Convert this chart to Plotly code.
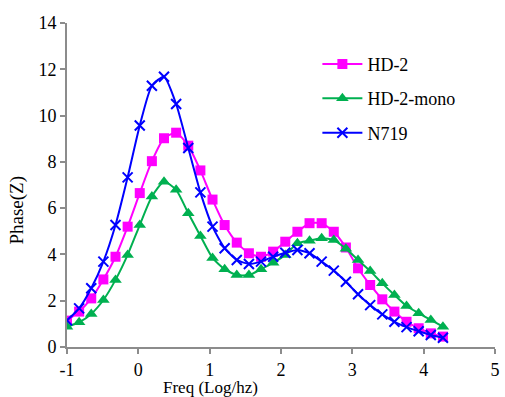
import plotly.graph_objects as go

log_freq = [-1.00, -0.83, -0.66, -0.49, -0.32, -0.15, 0.02, 0.19, 0.36, 0.53, 0.70, 0.87,
            1.04, 1.21, 1.38, 1.55, 1.72, 1.89, 2.06, 2.23, 2.40, 2.57, 2.74, 2.91,
            3.08, 3.25, 3.42, 3.59, 3.76, 3.93, 4.10, 4.27]

hd2 = [1.14, 1.53, 2.10, 2.92, 3.90, 5.20, 6.65, 8.03, 9.02, 9.26, 8.70, 7.63,
       6.37, 5.27, 4.51, 4.05, 3.90, 4.12, 4.55, 4.98, 5.35, 5.35, 4.98, 4.30,
       3.40, 2.68, 2.06, 1.53, 1.09, 0.81, 0.59, 0.45]

hd2_mono = [0.88, 1.07, 1.43, 2.03, 2.90, 3.98, 5.27, 6.50, 7.14, 6.79, 5.78, 4.80,
            3.85, 3.36, 3.11, 3.11, 3.36, 3.64, 3.98, 4.48, 4.59, 4.70, 4.62, 4.25,
            3.76, 3.28, 2.75, 2.25, 1.77, 1.46, 1.17, 0.88]

n719 = [1.15, 1.67, 2.54, 3.69, 5.27, 7.33, 9.57, 11.29, 11.68, 10.50, 8.60, 6.68,
        5.20, 4.27, 3.76, 3.59, 3.69, 3.90, 4.07, 4.19, 4.05, 3.69, 3.30, 2.82,
        2.28, 1.81, 1.41, 1.09, 0.86, 0.68, 0.52, 0.40]

x_ticks = [-1, 0, 1, 2, 3, 4, 5]
y_ticks = [0, 2, 4, 6, 8, 10, 12, 14]

FONT = "Liberation Serif"

fig = go.Figure()
fig.add_trace(go.Scatter(
    x=log_freq, y=hd2, name="HD-2", mode="lines+markers", legendgroup="a",
    line=dict(color="#FF00FF", width=2, shape="spline", smoothing=0.6),
    marker=dict(symbol="square", size=10, color="#FF00FF")))
fig.add_trace(go.Scatter(
    x=log_freq, y=hd2_mono, name="HD-2-mono", mode="lines+markers", legendgroup="b",
    line=dict(color="#00B050", width=2, shape="spline", smoothing=0.6),
    marker=dict(symbol="triangle-up", size=11, color="#00B050")))
fig.add_trace(go.Scatter(
    x=log_freq, y=n719, name="N719", mode="lines+markers", legendgroup="c",
    line=dict(color="#0000FF", width=2, shape="spline", smoothing=0.6),
    marker=dict(symbol="x-thin", size=10, color="#0000FF",
                line=dict(color="#0000FF", width=2))))

axis_common = dict(
    showgrid=False, zeroline=False, showline=True, linecolor="#8c8c8c", linewidth=2,
    ticks="outside", tickcolor="#8c8c8c", ticklen=5, tickwidth=2,
    tickfont=dict(family=FONT, size=18, color="black"),
)

fig.update_xaxes(range=[-1, 5], tickvals=x_ticks, ticktext=[str(v) for v in x_ticks],
                 **axis_common)
fig.update_yaxes(range=[0, 14], tickvals=y_ticks, ticktext=[str(v) for v in y_ticks],
                 **axis_common)

fig.add_annotation(text="Freq (Log/hz)", xref="paper", yref="paper",
                   x=(212 - 67) / 433, y=(347 - 388) / 324,
                   xanchor="center", yanchor="middle", showarrow=False,
                   font=dict(family=FONT, size=17, color="black"))
fig.add_annotation(text="Phase(Z)", xref="paper", yref="paper",
                   x=(16 - 67) / 433, y=(347 - 210) / 324, textangle=-90,
                   xanchor="center", yanchor="middle", showarrow=False,
                   font=dict(family=FONT, size=19, color="black"))

fig.update_layout(
    width=505, height=397,
    margin=dict(l=67, r=5, t=23, b=50),
    paper_bgcolor="white", plot_bgcolor="white",
    font=dict(family=FONT, color="black"),
    showlegend=True,
    legend=dict(x=0.585, y=0.93, xanchor="left", yanchor="top",
                font=dict(family=FONT, size=18, color="black"),
                bgcolor="rgba(0,0,0,0)", tracegroupgap=8, itemwidth=40),
)

fig.write_html("out.html")
